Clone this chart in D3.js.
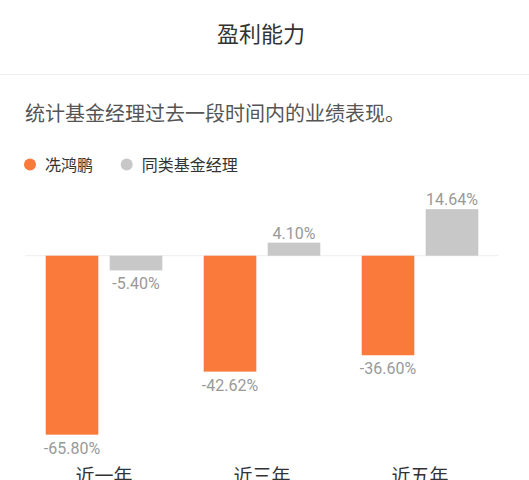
<!DOCTYPE html>
<html>
<head>
<meta charset="utf-8">
<script src="https://cdn.jsdelivr.net/npm/d3@7"></script>
<style>
  html, body { margin: 0; padding: 0; background: #fff; }
  svg { display: block; }
</style>
</head>
<body>
<svg id="chart" width="529" height="480"></svg>
<script>
const categories = ["近一年", "近三年", "近五年"];
const seriesNames = ["冼鸿鹏", "同类基金经理"];
const managerValues = [-65.80, -42.62, -36.60];
const peerValues = [-5.40, 4.10, 14.64];
const seriesColors = ["#F97A3B", "#C8C8C8"];
const titleText = "盈利能力";
const subtitleText = "统计基金经理过去一段时间内的业绩表现。";

const svg = d3.select("#chart");
const W = 529, H = 480;
const cjk = "'Noto Sans CJK SC', 'Noto Sans', sans-serif";
const num = "Roboto, 'Noto Sans CJK SC', sans-serif";

// header
svg.append("text").attr("x", 261).attr("y", 42).attr("text-anchor", "middle")
  .attr("font-family", cjk).attr("font-size", 22).attr("fill", "#333").text(titleText);
svg.append("line").attr("x1", 0).attr("x2", W).attr("y1", 74.5).attr("y2", 74.5)
  .attr("stroke", "#eeeeee").attr("stroke-width", 1);
svg.append("text").attr("x", 25).attr("y", 121).attr("font-family", cjk)
  .attr("font-size", 20).attr("fill", "#555").text(subtitleText);

// legend
const legendX = [30, 126.7];
seriesNames.forEach((name, i) => {
  const g = svg.append("g");
  g.append("circle").attr("cx", legendX[i]).attr("cy", 164.5).attr("r", 6).attr("fill", seriesColors[i]);
  g.append("text").attr("x", legendX[i] + 15).attr("y", 170.5).attr("font-family", cjk)
    .attr("font-size", 16).attr("fill", "#333").text(name);
});

// scales
const zeroY = 255.7;
const x0 = d3.scaleBand().domain(categories).range([25, 499]).padding(0);
const x1 = d3.scaleBand().domain(seriesNames).range([20.7, 137.3]).paddingInner(0.178).paddingOuter(0);
const y = d3.scaleLinear().domain([-70, 0, 20]).range([zeroY + 70 * 2.72, zeroY, zeroY - 20 * 3.18]);

// zero line
svg.append("line").attr("x1", x0.range()[0]).attr("x2", x0.range()[1])
  .attr("y1", y(0)).attr("y2", y(0)).attr("stroke", "#eeeeee").attr("stroke-width", 1);

const data = categories.map((c, i) => ({
  cat: c,
  vals: [{s: seriesNames[0], v: managerValues[i], ci: 0}, {s: seriesNames[1], v: peerValues[i], ci: 1}]
}));

const groups = svg.selectAll("g.grp").data(data).join("g").attr("class", "grp")
  .attr("transform", d => `translate(${x0(d.cat)},0)`);

groups.selectAll("rect").data(d => d.vals).join("rect")
  .attr("x", d => x1(d.s))
  .attr("width", x1.bandwidth())
  .attr("y", d => Math.min(y(d.v), y(0)))
  .attr("height", d => Math.abs(y(d.v) - y(0)))
  .attr("fill", d => seriesColors[d.ci]);

groups.selectAll("text.val").data(d => d.vals).join("text").attr("class", "val")
  .attr("x", d => x1(d.s) + x1.bandwidth() / 2)
  .attr("y", d => d.v < 0 ? y(d.v) + 19 : y(d.v) - 4)
  .attr("text-anchor", "middle")
  .attr("font-family", num).attr("font-size", 16).attr("fill", "#999")
  .text(d => d.v.toFixed(2) + "%");

// category axis labels (cut off by the bottom edge, as in the reference)
svg.selectAll("text.cat").data(categories).join("text").attr("class", "cat")
  .attr("x", d => x0(d) + x0.bandwidth() / 2)
  .attr("y", 483)
  .attr("text-anchor", "middle")
  .attr("font-family", cjk).attr("font-size", 19).attr("fill", "#333")
  .text(d => d);
</script>
</body>
</html>
